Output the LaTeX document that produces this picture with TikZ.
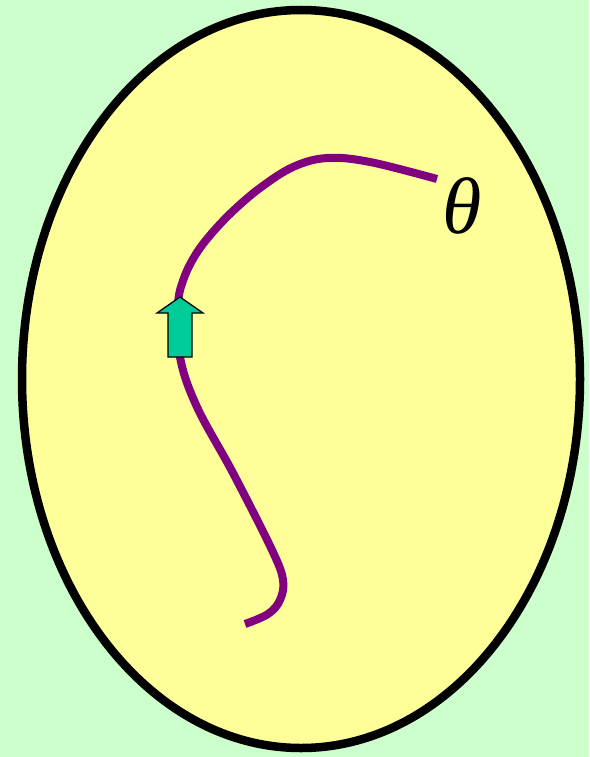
\documentclass[tikz,border=0pt]{standalone}
\usepackage{fontspec}
\setmainfont{Liberation Serif}
\definecolor{paleGreen}{HTML}{CCFFCC}
\definecolor{paleYellow}{HTML}{FFFF99}
\definecolor{pathPurple}{HTML}{800080}
\definecolor{arrowGreen}{HTML}{00CC99}
\begin{document}
\begin{tikzpicture}[x=1pt,y=-1pt]
    \tikzset{
        egg/.style={draw=black, line width=8.5pt, fill=paleYellow},
        trail/.style={draw=pathPurple, line width=8pt, line cap=butt},
        uparrow/.style={draw=black, line width=1.3pt, fill=arrowGreen, line join=miter}
    }
    \fill[paleGreen] (0,0) rectangle (589,757);
    \useasboundingbox (0,0) rectangle (589,757);

    \draw[egg] (301,379) ellipse [x radius=279, y radius=369];

    \draw[trail] plot[smooth, tension=0.6] coordinates {
        (245,624) (268,614) (280,600) (283,580) (272,550)
        (233,473) (197,407) (180,357) (178,305) (184,278)
        (196,254) (212,233) (233,211) (260,188) (293,167)
        (327,158) (370,162) (437,179)};
    % \draw[trail] (start) .. controls (270,614) and (292,610) .. (282,575);

    \draw[uparrow] (180,297) -- (157,313) -- (168,313) -- (168,357)
        -- (192,357) -- (192,313) -- (203,313) -- cycle;

    \node[inner sep=0pt] (theta) at (462,206)
        {\fontsize{80}{80}\selectfont\itshape θ};
\end{tikzpicture}
\end{document}
